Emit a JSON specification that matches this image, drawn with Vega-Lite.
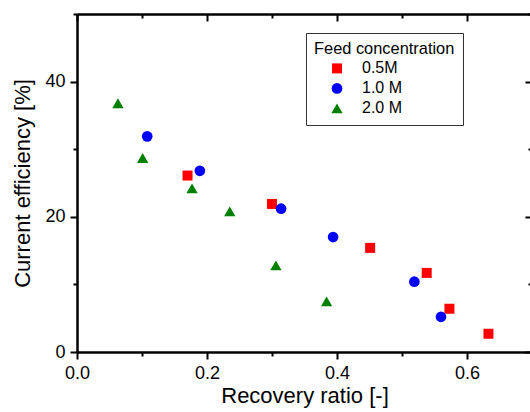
{
  "$schema": "https://vega.github.io/schema/vega-lite/v6.json",
  "width": 455,
  "height": 338,
  "autosize": "none",
  "padding": {"left": 77, "top": 14, "right": 0, "bottom": 60},
  "background": "white",
  "config": {
    "view": {"stroke": null},
    "font": "Liberation Sans",
    "axis": {
      "grid": false,
      "domainColor": "black",
      "domainWidth": 2.5,
      "tickColor": "black",
      "tickWidth": 2,
      "labelColor": "black",
      "titleColor": "black",
      "labelFont": "Liberation Sans",
      "titleFont": "Liberation Sans",
      "labelFontSize": 18,
      "titleFontSize": 22,
      "titleFontWeight": "normal"
    }
  },
  "data": {
    "values": [
      {"conc": "0.5M", "rr": 0.170, "ce": 26.1},
      {"conc": "0.5M", "rr": 0.300, "ce": 21.9},
      {"conc": "0.5M", "rr": 0.451, "ce": 15.4},
      {"conc": "0.5M", "rr": 0.538, "ce": 11.7},
      {"conc": "0.5M", "rr": 0.573, "ce": 6.4},
      {"conc": "0.5M", "rr": 0.633, "ce": 2.7},
      {"conc": "1.0 M", "rr": 0.108, "ce": 31.9},
      {"conc": "1.0 M", "rr": 0.189, "ce": 26.8},
      {"conc": "1.0 M", "rr": 0.314, "ce": 21.2},
      {"conc": "1.0 M", "rr": 0.394, "ce": 17.0},
      {"conc": "1.0 M", "rr": 0.519, "ce": 10.4},
      {"conc": "1.0 M", "rr": 0.560, "ce": 5.2},
      {"conc": "2.0 M", "rr": 0.063, "ce": 36.8},
      {"conc": "2.0 M", "rr": 0.101, "ce": 28.7},
      {"conc": "2.0 M", "rr": 0.177, "ce": 24.2},
      {"conc": "2.0 M", "rr": 0.235, "ce": 20.8},
      {"conc": "2.0 M", "rr": 0.306, "ce": 12.8},
      {"conc": "2.0 M", "rr": 0.384, "ce": 7.5}
    ]
  },
  "resolve": {"axis": {"x": "independent", "y": "independent"}},
  "layer": [
    {
      "mark": {"type": "point", "filled": true, "opacity": 1, "strokeWidth": 0},
      "encoding": {
        "x": {
          "field": "rr", "type": "quantitative",
          "scale": {"domain": [0, 0.7], "nice": false, "zero": false},
          "axis": {
            "orient": "bottom",
            "title": "Recovery ratio [-]",
            "values": [0, 0.1, 0.2, 0.3, 0.4, 0.5, 0.6, 0.7],
            "labelExpr": "round(datum.value*10)%2===0 ? format(datum.value, '.1f') : ''",
            "tickSize": {"condition": {"test": "round(datum.value*10)%2===0", "value": 7}, "value": 4},
            "labelPadding": 5,
            "titlePadding": 3,
            "labelFlush": false,
            "labelOverlap": false
          }
        },
        "y": {
          "field": "ce", "type": "quantitative",
          "scale": {"domain": [0, 50], "nice": false},
          "axis": {
            "orient": "left",
            "title": "Current efficiency [%]",
            "values": [0, 10, 20, 30, 40, 50],
            "labelExpr": "round(datum.value/10)%2===0 ? format(datum.value, 'd') : ''",
            "tickSize": {"condition": {"test": "round(datum.value/10)%2===0", "value": 7}, "value": 4},
            "labelPadding": 5,
            "titlePadding": 10,
            "labelFlush": false,
            "labelOverlap": false
          }
        },
        "color": {
          "field": "conc", "type": "nominal",
          "scale": {"domain": ["0.5M", "1.0 M", "2.0 M"], "range": ["#ff0000", "#0000ff", "#008000"]},
          "legend": {
            "title": "Feed concentration",
            "orient": "none",
            "legendX": 229,
            "legendY": 19,
            "padding": 8,
            "strokeColor": "#333333",
            "fillColor": "white",
            "titleFont": "Liberation Sans",
            "titleFontSize": 16.4,
            "titleFontWeight": "normal",
            "titleColor": "black",
            "titlePadding": 3,
            "labelFont": "Liberation Sans",
            "labelFontSize": 16,
            "labelColor": "black",
            "symbolOffset": 15,
            "labelOffset": 17,
            "rowPadding": 4
          }
        },
        "shape": {
          "field": "conc", "type": "nominal",
          "scale": {"domain": ["0.5M", "1.0 M", "2.0 M"], "range": ["square", "circle", "triangle-up"]},
          "legend": {"title": "Feed concentration"}
        },
        "size": {
          "field": "conc", "type": "nominal",
          "scale": {"domain": ["0.5M", "1.0 M", "2.0 M"], "range": [100, 128, 177]},
          "legend": {"title": "Feed concentration"}
        }
      }
    },
    {
      "mark": {"type": "point", "opacity": 0},
      "encoding": {
        "x": {
          "field": "rr", "type": "quantitative",
          "axis": {
            "orient": "top",
            "title": null,
            "labels": false,
            "values": [0, 0.1, 0.2, 0.3, 0.4, 0.5, 0.6, 0.7],
            "tickSize": {"condition": {"test": "round(datum.value*10)%2===0", "value": -7}, "value": -4}
          }
        },
        "y": {
          "field": "ce", "type": "quantitative",
          "axis": {
            "orient": "right",
            "title": null,
            "labels": false,
            "values": [0, 10, 20, 30, 40, 50],
            "tickSize": {"condition": {"test": "round(datum.value/10)%2===0", "value": -7}, "value": -4}
          }
        }
      }
    }
  ]
}
